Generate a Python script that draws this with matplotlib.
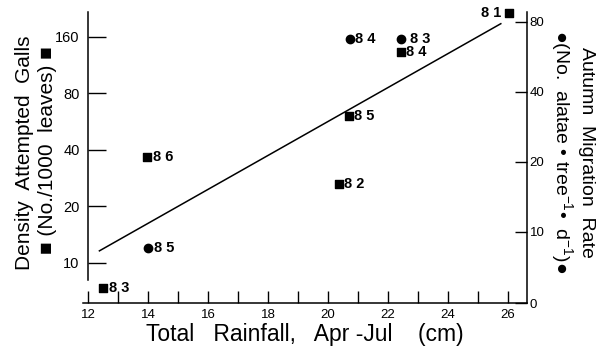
#!/usr/bin/env python3
"""
plot.py - rainfall vs gall density / autumn migration rate (scatter + fit line).
Saves out.png (608x351).
"""
import matplotlib
matplotlib.use('Agg')
import matplotlib.pyplot as plt
from matplotlib.ticker import FixedLocator, NullLocator

# --- data ---
gall_years = ['83', '86', '82', '85', '84', '81']
gall_rain = [12.51, 13.98, 20.36, 20.69, 22.42, 26.02]
gall_density = [7.4, 36.8, 26.4, 60.7, 133, 215]

mig_years = ['85', '84', '83']
mig_rain = [14.01, 20.73, 22.42]
mig_rate = [8.5, 67.4, 67.8]

fit_rain = [12.38, 25.76]
fit_density = [11.6, 188]

x_ticks = list(range(12, 27))
x_ticklabels = [str(v) if v % 2 == 0 else '' for v in x_ticks]
left_ticks = [10, 20, 40, 80, 160]
right_ticks = [4.94, 10, 20, 40, 80]
right_ticklabels = ['0', '10', '20', '40', '80']

FONT = ['Liberation Sans', 'DejaVu Sans']
plt.rcParams['font.family'] = FONT
plt.rcParams['mathtext.fontset'] = 'custom'
plt.rcParams['mathtext.rm'] = 'Liberation Sans'
plt.rcParams['mathtext.it'] = 'Liberation Sans'

W, H = 608, 351


def px(x, y):
    """pixel coords (top-left origin) -> figure fraction"""
    return x / W, 1 - y / H


def main():
    fig = plt.figure(figsize=(W / 100, H / 100), dpi=100)
    x0, y1 = px(83, 12)
    x1, y0 = px(527, 303)
    ax = fig.add_axes([x0, y0, x1 - x0, y1 - y0])
    ax2 = ax.twinx()

    # left axis: gall density (log)
    ax.set_xlim(11.833, 26.633)
    ax.set_yscale('log')
    ax.set_ylim(6.12, 217)
    ax.yaxis.set_major_locator(FixedLocator(left_ticks))
    ax.yaxis.set_minor_locator(NullLocator())
    ax.set_yticklabels([str(v) for v in left_ticks])
    ax.set_xticks(x_ticks)
    ax.set_xticklabels(x_ticklabels)

    # right axis: migration rate (log2, bottom labelled 0)
    ax2.set_yscale('log', base=2)
    ax2.set_ylim(4.94, 88.2)
    ax2.yaxis.set_major_locator(FixedLocator(right_ticks))
    ax2.yaxis.set_minor_locator(NullLocator())
    ax2.set_yticklabels(right_ticklabels)

    for s in ['top', 'right']:
        ax.spines[s].set_visible(False)
    for s in ['top', 'left', 'bottom']:
        ax2.spines[s].set_visible(False)
    ax.spines['left'].set_position(('data', 12))
    ax.spines['left'].set_bounds(8.12, 217)
    for sp in [ax.spines['left'], ax.spines['bottom'], ax2.spines['right']]:
        sp.set_linewidth(1.1)

    ax.tick_params(axis='y', direction='in', length=13, width=1, pad=6, labelsize=10.5)
    ax.tick_params(axis='x', direction='in', length=9, width=1, pad=4, labelsize=9.5)
    ax2.tick_params(axis='y', direction='in', length=9, width=1, pad=2, labelsize=9.5)

    # fitted line
    ax.plot(fit_rain, fit_density, color='black', lw=1.1, clip_on=False)

    # galls (squares, left axis)
    ax.scatter(gall_rain, gall_density, marker='s', s=32, color='black', zorder=3, clip_on=False)
    for xr, yv, yr in zip(gall_rain, gall_density, gall_years):
        lab = ' '.join(yr)
        if yr == '81':
            ax.annotate(lab, (xr, yv), xytext=(-5, 0), textcoords='offset points',
                        ha='right', va='center', fontsize=10.5, fontweight='bold')
        else:
            ax.annotate(lab, (xr, yv), xytext=(4, 0), textcoords='offset points',
                        ha='left', va='center', fontsize=10.5, fontweight='bold')

    # migration (circles, right axis)
    ax2.scatter(mig_rain, mig_rate, marker='o', s=36, color='black', zorder=3, clip_on=False)
    for xr, yv, yr in zip(mig_rain, mig_rate, mig_years):
        off = 7 if yr == '83' else 4
        ax2.annotate(' '.join(yr), (xr, yv), xytext=(off, 0), textcoords='offset points',
                     ha='left', va='center', fontsize=10.5, fontweight='bold')

    # axis titles
    fig.text(*px(305, 341), 'Total   Rainfall,   Apr -Jul    (cm)', ha='center', va='baseline', fontsize=16.5)
    fig.text(*px(25, 153), 'Density  Attempted  Galls', rotation=90, ha='center', va='center', fontsize=15)
    fig.text(*px(48, 150), '\u25a0 (No./1000  leaves) \u25a0', rotation=90, ha='center', va='center', fontsize=15)
    fig.text(*px(587, 152), 'Autumn  Migration  Rate', rotation=270, ha='center', va='center', fontsize=14)
    fig.text(*px(562, 152), '\u25cf(No.  alatae \u2022 tree$^{-1}$\u2022  d$^{-1}$)\u25cf',
             rotation=270, ha='center', va='center', fontsize=14)

    fig.savefig('out.png', dpi=100)
    plt.close(fig)


if __name__ == '__main__':
    main()
